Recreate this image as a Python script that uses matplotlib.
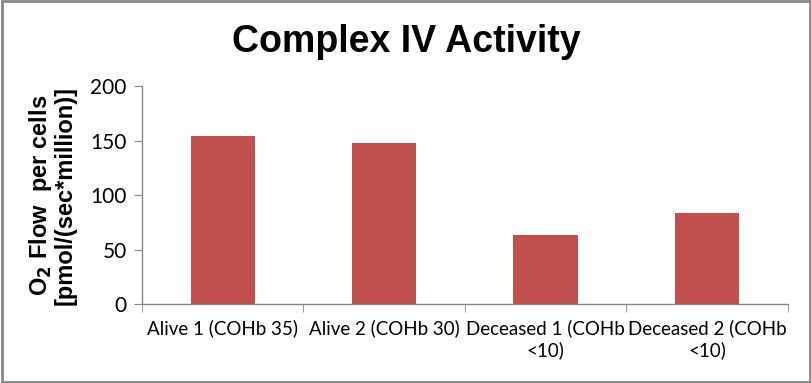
import matplotlib
matplotlib.use("Agg")
import matplotlib.pyplot as plt
import numpy as np
from matplotlib.patches import Rectangle

categories = ["Alive 1 (COHb 35)", "Alive 2 (COHb 30)",
              "Deceased 1 (COHb\n<10)", "Deceased 2 (COHb\n<10)"]
values = [154, 148, 63.5, 83.5]
yticks = [0, 50, 100, 150, 200]

fig = plt.figure(figsize=(8.12, 3.83), dpi=100)
ax = fig.add_axes([0.175, 0.2055, 0.795, 0.57])

x = np.arange(len(categories))
ax.bar(x, values, width=0.4, color="#C0504D")

ax.set_xlim(-0.5, len(categories) - 0.5)
ax.set_ylim(0, 200)
ax.set_yticks(yticks)
ax.set_yticklabels([str(v) for v in yticks], fontfamily="Lato", fontsize=15)

ax.set_xticks(x)
ax.set_xticklabels(categories, fontfamily="Lato", fontsize=13.5, linespacing=1.25)
ax.tick_params(axis="x", length=0, pad=11)
ax.set_xticks(np.arange(len(categories) + 1) - 0.5, minor=True)
ax.tick_params(axis="x", which="minor", length=6, color="#878787", direction="out")
ax.tick_params(axis="y", length=6, color="#878787", direction="out", pad=5)

for s in ["top", "right"]:
    ax.spines[s].set_visible(False)
for s in ["left", "bottom"]:
    ax.spines[s].set_color("#878787")
    ax.spines[s].set_linewidth(1)

ax.set_ylabel("O$_\\mathbf{2}$ Flow  per cells\n[pmol/(sec*million)]",
              fontfamily="Liberation Sans", fontweight="bold", fontsize=17,
              linespacing=1.0, labelpad=10)

fig.text(0.5, 0.89, "Complex IV Activity", ha="center", va="center",
         fontfamily="Liberation Sans", fontweight="bold", fontsize=27)

fig.patches.append(Rectangle((0.002, 0.003), 0.996, 0.994, transform=fig.transFigure,
                             fill=False, edgecolor="#868686", linewidth=2))

fig.savefig("out.png", dpi=100)
